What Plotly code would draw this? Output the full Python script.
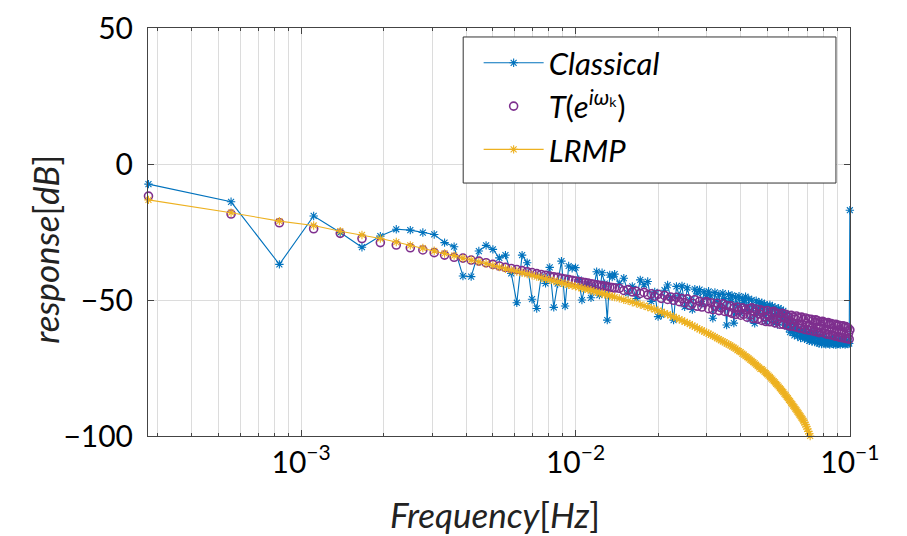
import plotly.graph_objects as go

# ---------------- data ----------------
BASE_FREQ_HZ = 1.0 / 3600.0   # spacing of the harmonic frequencies

harmonic_k = (
    [1, 2, 3, 4, 5, 6, 7, 8, 9, 10, 11, 12, 13, 14, 15, 16, 17, 18, 19, 20,
     21, 22, 23, 24, 25, 26, 27, 28, 29, 30, 31, 32, 33, 34, 35, 36, 37, 38, 39, 40,
     41, 42, 43, 44, 45, 46, 47, 48, 49, 50]
    + [52, 54, 56, 58, 60, 62, 64, 66, 68, 70,
       72, 74, 76, 78, 80, 82, 84, 86, 88, 90,
       92, 94, 96, 98, 100, 102, 104, 106, 108, 110,
       112, 114, 116, 118, 120, 122, 124, 126, 128, 130,
       132, 134, 136, 138, 140, 142, 144, 146, 148, 150,
       152, 154, 156, 158, 160, 162, 164, 166, 168, 170,
       172, 174, 176, 178, 180, 182, 184, 186, 188, 190,
       192, 194, 196, 198, 200, 202, 204, 206, 208, 210,
       212, 214, 216, 218, 220, 222, 224, 226, 228, 230,
       232, 234, 236, 238, 240, 242, 244, 246, 248, 250,
       252, 254, 256, 258, 260, 262, 264, 266, 268, 270,
       272, 274, 276, 278, 280, 282, 284, 286, 288, 290,
       292, 294, 296, 298, 300, 302, 304, 306, 308, 310,
       312, 314, 316, 318, 320, 322, 324, 326, 328, 330,
       332, 334, 336, 338, 340, 342, 344, 346, 348, 350,
       352, 354, 356, 358, 360]
)

classical_db = (
    [-7.4, -13.9, -36.9, -19.1, -25.2, -30.6, -26.5, -24.0, -24.3, -25.2,
     -25.9, -28.9, -30.4, -41.2, -41.4, -32.0, -29.9, -31.4, -34.5, -33.5,
     -40.2, -51.0, -33.5, -36.3, -49.7, -53.1, -41.4, -43.9, -38.0, -52.7,
     -44.0, -35.7, -52.2, -37.5, -38.3, -38.1, -42.5, -50.0, -45.0, -44.0,
     -49.2, -45.5, -39.6, -48.2, -40.0, -44.0, -57.4, -40.8, -41.6, -40.5]
    + [-44.0, -42.0, -47.5, -45.0, -49.5, -42.6, -44.4, -43.2, -50.5, -47.0,
       -56.1, -55.5, -46.4, -44.5, -49.0, -57.4, -45.0, -48.5, -44.8, -52.5,
       -45.5, -50.0, -53.5, -46.0, -47.5, -46.2, -51.5, -47.0, -49.0, -46.8,
       -48.5, -56.7, -47.2, -50.5, -48.0, -53.0, -47.5, -49.5, -59.2, -48.0,
       -50.5, -48.3, -58.5, -49.0, -52.0, -48.6, -55.0, -49.5, -51.0, -48.8,
       -53.5, -49.6, -57.0, -50.0, -52.5, -58.6, -50.3, -55.0, -50.8, -53.0,
       -51.0, -55.5, -51.5, -58.0, -52.0, -54.5, -51.8, -56.5, -52.3, -58.2,
       -52.8, -55.0, -59.0, -53.0, -56.0, -53.5, -57.5, -54.0, -59.3, -55.0,
       -59.5, -56.5, -60.5, -61.8, -58.0, -62.0, -60.0, -63.0, -59.0, -61.5,
       -63.3, -60.5, -62.0, -64.0, -61.0, -63.5, -62.0, -64.3, -60.8, -63.0,
       -64.5, -62.0, -65.0, -61.5, -63.8, -65.3, -62.5, -64.0, -65.5, -63.0,
       -62.5, -65.6, -64.0, -66.0, -63.2, -65.0, -66.2, -64.0, -63.5, -66.0,
       -64.5, -66.3, -63.8, -65.5, -66.0, -64.2, -66.4, -65.0, -63.9, -66.1,
       -64.5, -66.3, -65.2, -64.0, -66.5, -65.0, -66.2, -64.8, -66.0, -65.3,
       -66.4, -65.0, -64.5, -66.2, -65.5, -66.0, -64.7, -66.4, -65.2, -66.0,
       -65.0, -66.2, -65.4, -66.0, -17.0]
)

transfer_db = (
    [-11.8, -18.4, -21.6, -23.8, -25.5, -27.4, -28.9, -29.8, -30.8, -31.6,
     -32.6, -33.5, -34.3, -34.6, -35.3, -35.7, -36.3, -36.9, -37.5, -38.0,
     -38.4, -38.8, -39.2, -39.6, -39.9, -40.3, -40.6, -40.9, -41.2, -41.5,
     -41.7, -42.0, -42.3, -42.5, -42.8, -43.0, -43.2, -43.4, -43.6, -43.8,
     -44.0, -44.2, -44.4, -44.6, -44.8, -44.9, -45.1, -45.3, -45.4, -45.6]
    + [-45.7, -46.5, -46.2, -47.0, -46.8, -47.6, -47.2, -48.1, -47.7, -48.6,
       -47.9, -49.4, -48.3, -49.8, -48.9, -50.1, -49.0, -50.6, -49.5, -51.0,
       -49.6, -51.9, -51.2, -49.9, -52.3, -50.5, -52.6, -51.0, -50.6, -53.2,
       -51.0, -53.5, -52.3, -51.2, -53.9, -52.8, -51.4, -54.2, -52.0, -54.4,
       -52.1, -54.9, -53.0, -55.3, -52.6, -54.0, -55.6, -52.9, -55.2, -53.5,
       -56.3, -53.2, -55.6, -52.9, -56.8, -54.4, -53.3, -57.0, -55.1, -53.6,
       -57.5, -54.0, -56.2, -57.9, -53.9, -55.8, -58.0, -54.5, -56.9, -54.2,
       -58.4, -54.8, -57.3, -55.0, -58.9, -56.1, -54.9, -59.0, -56.6, -55.3,
       -59.3, -56.0, -57.6, -59.6, -55.6, -58.4, -56.2, -59.8, -57.1, -55.9,
       -60.1, -56.5, -58.8, -60.4, -56.3, -59.0, -57.2, -60.8, -56.6, -58.5,
       -61.0, -57.0, -59.4, -61.2, -57.1, -60.0, -57.6, -61.5, -58.3, -57.3,
       -61.7, -57.6, -60.2, -62.0, -58.0, -59.5, -61.8, -57.8, -60.6, -58.2,
       -62.3, -58.4, -60.9, -62.6, -58.3, -61.1, -59.0, -62.8, -58.7, -60.4,
       -62.9, -59.0, -61.5, -63.3, -58.9, -61.8, -59.6, -63.5, -59.3, -61.0,
       -63.7, -59.6, -62.0, -63.9, -59.5, -62.4, -60.0, -64.1, -59.8, -61.7,
       -64.2, -60.2, -62.3, -64.4, -61.0]
)

lrmp_db = (
    [-13.2, -17.9, -21.0, -22.6, -24.7, -26.1, -27.4, -28.7, -29.9, -30.9,
     -31.9, -32.9, -33.7, -34.6, -35.3, -36.0, -36.6, -37.3, -37.9, -38.5,
     -39.0, -39.5, -40.0, -40.5, -40.9, -41.4, -41.8, -42.2, -42.6, -43.0,
     -43.3, -43.7, -44.0, -44.4, -44.7, -45.0, -45.3, -45.6, -45.9, -46.2,
     -46.5, -46.8, -47.1, -47.4, -47.6, -47.9, -48.2, -48.4, -48.7, -48.9]
    + [-49.4, -49.9, -50.3, -50.8, -51.2, -51.7, -52.1, -52.6, -53.0, -53.5,
       -53.9, -54.4, -54.8, -55.3, -55.7, -56.2, -56.6, -57.1, -57.5, -58.0,
       -58.4, -58.9, -59.4, -59.8, -60.3, -60.8, -61.2, -61.6, -62.0, -62.4,
       -62.8, -63.2, -63.6, -64.0, -64.4, -64.8, -65.2, -65.6, -66.0, -66.3,
       -66.7, -67.1, -67.5, -67.9, -68.4, -68.8, -69.2, -69.7, -70.1, -70.6,
       -71.0, -71.5, -71.9, -72.4, -72.8, -73.3, -73.8, -74.3, -74.8, -75.3,
       -75.4, -75.9, -76.4, -76.9, -77.3, -77.8, -78.3, -78.8, -79.3, -79.8,
       -80.3, -80.8, -81.3, -81.8, -82.4, -82.9, -83.4, -83.9, -84.5, -85.0,
       -85.6, -86.1, -86.7, -87.2, -87.8, -88.3, -88.9, -89.4, -90.0, -90.5,
       -91.1, -91.6, -92.2, -92.7, -93.3, -93.8, -94.4, -95.1, -95.8, -96.6,
       -97.4, -98.3, -99.2, -100.0, -100.4]
)

series_names = ["<i>Classical</i>", "<i>T</i>(<i>e</i><sup><i>iω</i>ₖ</sup>)", "<i>LRMP</i>"]
x_title = "<i>Frequency</i>[<i>Hz</i>]"
y_title = "<i>response</i>[<i>dB</i>]"

x_major_ticks = [1e-3, 1e-2, 1e-1]
x_major_text = ["10<sup>−3</sup>", "10<sup>−2</sup>", "10<sup>−1</sup>"]
x_minor_ticks = [3e-4, 4e-4, 5e-4, 6e-4, 7e-4, 8e-4, 9e-4,
                 2e-3, 3e-3, 4e-3, 5e-3, 6e-3, 7e-3, 8e-3, 9e-3,
                 2e-2, 3e-2, 4e-2, 5e-2, 6e-2, 7e-2, 8e-2, 9e-2]
y_ticks = [-100, -50, 0, 50]

# ---------------- figure ----------------
freq_hz = [k * BASE_FREQ_HZ for k in harmonic_k]

BLUE = "#0072BD"
PURPLE = "#7E2F8E"
YELLOW = "#EDB120"
FONT = "Lato"
GRID = "#dcdcdc"
AXIS = "#444444"

fig = go.Figure()
fig.add_trace(go.Scatter(
    x=freq_hz, y=classical_db, name=series_names[0], mode="lines+markers",
    line=dict(color=BLUE, width=1.1),
    marker=dict(symbol="asterisk-open", size=7, color=BLUE, line=dict(color=BLUE, width=1.1)),
    cliponaxis=False))
fig.add_trace(go.Scatter(
    x=freq_hz, y=transfer_db, name=series_names[1], mode="markers",
    marker=dict(symbol="circle-open", size=8, color=PURPLE, line=dict(color=PURPLE, width=1.6)),
    cliponaxis=False))
fig.add_trace(go.Scatter(
    x=freq_hz[:len(lrmp_db)], y=lrmp_db, name=series_names[2], mode="lines+markers",
    line=dict(color=YELLOW, width=1.1),
    marker=dict(symbol="asterisk-open", size=7, color=YELLOW, line=dict(color=YELLOW, width=1.1)),
    cliponaxis=False))

# The page body adds an 8 px offset, so the figure is drawn 8 px smaller and shifted.
fig.update_layout(
    width=899, height=528,
    margin=dict(l=140, r=57, t=20, b=100),
    paper_bgcolor="white", plot_bgcolor="white",
    font=dict(family=FONT, size=30, color="black"),
    showlegend=True,
    legend=dict(x=0.471, y=0.980, xanchor="left", yanchor="top",
                bgcolor="rgba(0,0,0,0)", borderwidth=0,
                font=dict(family=FONT, size=31), itemwidth=60, tracegroupgap=0),
    shapes=[dict(type="rect", xref="paper", yref="paper",
                 x0=0.449, x1=0.980, y0=0.620, y1=0.978,
                 line=dict(color="#333333", width=1), fillcolor="white", layer="above")],
    annotations=[
        dict(text=x_title, xref="paper", yref="paper", x=0.494, y=-0.190,
             xanchor="center", yanchor="middle", showarrow=False,
             font=dict(family=FONT, size=35, color="#222222")),
        dict(text=y_title, xref="paper", yref="paper", x=-0.148, y=0.457,
             xanchor="center", yanchor="middle", showarrow=False, textangle=-90,
             font=dict(family=FONT, size=35, color="#222222")),
    ],
)
fig.update_xaxes(
    type="log", range=[-3.5580, -0.9995], automargin=False,
    tickmode="array", tickvals=x_major_ticks, ticktext=x_major_text,
    ticks="inside", ticklen=6, tickcolor=AXIS, tickwidth=1,
    showgrid=True, gridcolor=GRID, gridwidth=1,
    minor=dict(tickmode="array", tickvals=x_minor_ticks, ticks="inside", ticklen=3,
               tickcolor=AXIS, showgrid=True, gridcolor=GRID, gridwidth=1),
    showline=True, linecolor=AXIS, linewidth=1, mirror="allticks",
    zeroline=False, ticklabelstandoff=0,
)
fig.update_yaxes(
    range=[-100, 50], automargin=False, tickmode="array", tickvals=y_ticks,
    ticks="inside", ticklen=6, tickcolor=AXIS, tickwidth=1,
    showgrid=True, gridcolor=GRID, gridwidth=1,
    showline=True, linecolor=AXIS, linewidth=1, mirror="allticks",
    zeroline=False, ticklabelstandoff=8,
)

fig.write_html("out.html")
